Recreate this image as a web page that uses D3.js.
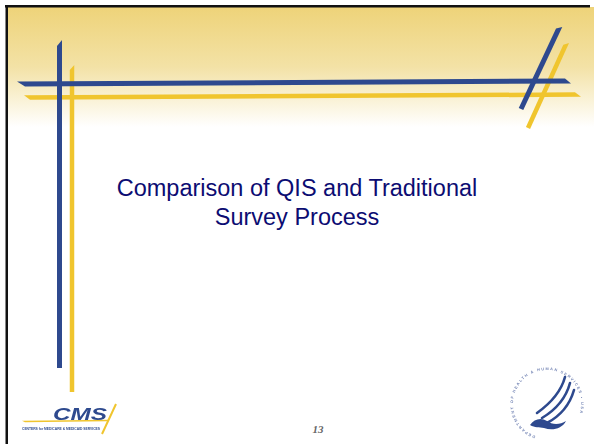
<!DOCTYPE html>
<html>
<head>
<meta charset="utf-8">
<script src="https://cdn.jsdelivr.net/npm/d3@7"></script>
<style>
  body { margin: 0; background: #ffffff; }
  svg { display: block; }
</style>
</head>
<body>
<script>
// slide text
var titleLines = ["Comparison of QIS and Traditional", "Survey Process"];
var pageNumber = ["13"];
var cmsLabel = ["CMS"];
var cmsSubLabel = ["CENTERS for MEDICARE & MEDICAID SERVICES"];
var hhsRing = ["DEPARTMENT OF HEALTH & HUMAN SERVICES \u2022 USA"];

var W = 594, H = 444;

var svg = d3.select("body").append("svg")
    .attr("width", W)
    .attr("height", H);

var defs = svg.append("defs");

var grad = defs.append("linearGradient")
    .attr("id", "bg")
    .attr("x1", 0).attr("y1", 0).attr("x2", 0).attr("y2", 1)
    .attr("gradientUnits", "objectBoundingBox");
grad.append("stop").attr("offset", "0").attr("stop-color", "#eed379");
grad.append("stop").attr("offset", "0.5").attr("stop-color", "#f3e2a6");
grad.append("stop").attr("offset", "1").attr("stop-color", "#ffffff");

var blur = defs.append("filter").attr("id", "soft");
blur.append("feGaussianBlur").attr("stdDeviation", 0.45);

// background: white page, pale gold fade at the top
svg.append("rect").attr("width", W).attr("height", H).attr("fill", "#ffffff");
svg.append("rect")
    .attr("x", 8).attr("y", 7)
    .attr("width", W - 8).attr("height", 120)
    .attr("fill", "url(#bg)");

// black frame, top and left only
svg.append("rect").attr("x", 5).attr("y", 5).attr("width", 585).attr("height", 2.5).attr("fill", "#111");
svg.append("rect").attr("x", 5.5).attr("y", 5).attr("width", 2.5).attr("height", H - 5).attr("fill", "#111");

var blue = "#2d4a8e", gold = "#f0c52f";

// a stroke from (x1,y1) to (x2,y2), width w, ends cut on a slant (s1, s2)
function bar(x1, y1, x2, y2, w, s1, s2) {
  var dx = x2 - x1, dy = y2 - y1, len = Math.sqrt(dx * dx + dy * dy);
  var ux = dx / len, uy = dy / len, nx = -uy * w / 2, ny = ux * w / 2;
  var pts = [
    [x1 + nx + ux * s1, y1 + ny + uy * s1],
    [x2 + nx, y2 + ny],
    [x2 - nx - ux * s2, y2 - ny - uy * s2],
    [x1 - nx, y1 - ny]
  ];
  return "M" + pts.map(function(p) { return p.join(","); }).join("L") + "Z";
}

var strokes = svg.append("g").attr("filter", "url(#soft)");

// gold strokes behind blue
strokes.append("path").attr("d", bar(24, 97.5, 581, 94.5, 4.5, 6, 6)).attr("fill", gold);
strokes.append("path").attr("d", bar(72, 65, 72, 392, 4.5, 5, 0)).attr("fill", gold);
strokes.append("path").attr("d", bar(567, 42, 528, 128, 4.5, 4, 0)).attr("fill", gold);

strokes.append("path").attr("d", bar(17, 84, 571, 81, 5, 8, 6)).attr("fill", blue);
strokes.append("path").attr("d", bar(59.5, 368, 59.5, 40, 5, 0, 6)).attr("fill", blue);
strokes.append("path").attr("d", bar(560, 26, 521, 109, 5, 4, 0)).attr("fill", blue);

// title
svg.append("g").selectAll("text")
    .data(titleLines)
    .enter().append("text")
    .attr("x", 297)
    .attr("y", function(d, i) { return 196 + i * 29; })
    .attr("text-anchor", "middle")
    .attr("font-family", "Liberation Sans, Arial, sans-serif")
    .attr("font-size", 23.5)
    .attr("fill", "#0c0c72")
    .text(function(d) { return d; });

// page number
svg.append("g").selectAll("text")
    .data(pageNumber)
    .enter().append("text")
    .attr("x", 318)
    .attr("y", 433)
    .attr("text-anchor", "middle")
    .attr("font-family", "Liberation Serif, Times New Roman, serif")
    .attr("font-style", "italic")
    .attr("font-weight", "bold")
    .attr("font-size", 11)
    .attr("fill", "#666")
    .text(function(d) { return d; });

// CMS logo
var cms = svg.append("g").attr("filter", "url(#soft)");
cms.append("path").attr("d", bar(22, 421.5, 108, 420.5, 1.6, 3, 0)).attr("fill", gold);
cms.append("path").attr("d", bar(116, 404, 102, 434, 2, 0, 0)).attr("fill", gold);
cms.selectAll("text.cms")
    .data(cmsLabel)
    .enter().append("text")
    .attr("class", "cms")
    .attr("x", 80).attr("y", 420)
    .attr("text-anchor", "middle")
    .attr("font-family", "Liberation Sans, Arial, sans-serif")
    .attr("font-weight", "bold")
    .attr("font-style", "italic")
    .attr("font-size", 17)
    .attr("textLength", 54)
    .attr("lengthAdjust", "spacingAndGlyphs")
    .attr("fill", "#2d4a8e")
    .text(function(d) { return d; });
cms.selectAll("text.sub")
    .data(cmsSubLabel)
    .enter().append("text")
    .attr("class", "sub")
    .attr("x", 22).attr("y", 430)
    .attr("font-family", "Liberation Sans, Arial, sans-serif")
    .attr("font-weight", "bold")
    .attr("font-size", 3)
    .attr("textLength", 78)
    .attr("lengthAdjust", "spacingAndGlyphs")
    .attr("fill", "#2d4a8e")
    .text(function(d) { return d; });

// HHS seal
var hhs = svg.append("g").attr("filter", "url(#soft)");
var cx = 547, cy = 404, r = 34;
var a0 = 110 * Math.PI / 180, a1 = 380 * Math.PI / 180;
var ringPath = d3.path();
ringPath.arc(cx, cy, r, a0, a1);
defs.append("path").attr("id", "ring").attr("d", ringPath.toString());
hhs.selectAll("text.ring")
    .data(hhsRing)
    .enter().append("text")
    .attr("class", "ring")
    .attr("font-family", "Liberation Sans, Arial, sans-serif")
    .attr("font-size", 3.8)
    .attr("font-weight", "bold")
    .attr("fill", "#7384b4")
    .append("textPath")
    .attr("href", "#ring")
    .attr("textLength", r * (a1 - a0) * 0.98)
    .attr("lengthAdjust", "spacing")
    .text(function(d) { return d; });

// eagle: three swept stripes and a head
var wings = [
  "M565,377 C561,392 551,403 537,413",
  "M570,383 C566,398 557,409 542,418",
  "M574,390 C570,404 562,415 547,423"
];
hhs.selectAll("path.wing")
    .data(wings)
    .enter().append("path")
    .attr("class", "wing")
    .attr("d", function(d) { return d; })
    .attr("fill", "none")
    .attr("stroke", "#2d4a8e")
    .attr("stroke-width", 2.6)
    .attr("stroke-linecap", "round");
hhs.append("path")
    .attr("d", "M530,425 C534,419 541,417 547,421 C552,425 560,425 566,421 C562,429 552,431 544,428 C539,427 535,428 530,425 Z")
    .attr("fill", "#2d4a8e");
</script>
</body>
</html>
